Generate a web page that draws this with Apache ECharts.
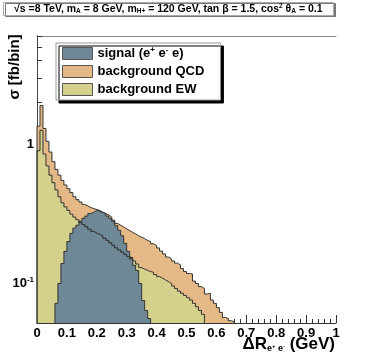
<!DOCTYPE html>
<html>
<head>
<meta charset="utf-8">
<script src="https://cdn.jsdelivr.net/npm/echarts@6/dist/echarts.min.js"></script>
<style>
  html, body { margin: 0; padding: 0; background: #fff; }
  #chart { width: 374px; height: 359px; }
</style>
</head>
<body>
<div id="chart"></div>
<script>
// histogram contents, one value per 0.01 bin
var BIN_WIDTH = 0.01;
var qcd = [1.35, 1.9, 1.3, 1.05, 0.88, 0.75, 0.66, 0.6, 0.55, 0.51,
           0.48, 0.45, 0.42, 0.4, 0.385, 0.37, 0.36, 0.352, 0.345, 0.34,
           0.335, 0.325, 0.318, 0.31, 0.3, 0.285, 0.27, 0.262, 0.255, 0.247,
           0.24, 0.233, 0.227, 0.22, 0.215, 0.21, 0.204, 0.2, 0.193, 0.187,
           0.18, 0.171, 0.163, 0.155, 0.15, 0.145, 0.14, 0.136, 0.128, 0.122,
           0.118, 0.117, 0.104, 0.1, 0.095, 0.092, 0.084, 0.085, 0.076, 0.072,
           0.067, 0.062, 0.057, 0.056, 0.054, 0.053];
var ew = [0.9, 1.26, 0.85, 0.7, 0.6, 0.53, 0.47, 0.42, 0.38, 0.355,
          0.335, 0.315, 0.3, 0.287, 0.275, 0.265, 0.255, 0.245, 0.237, 0.23,
          0.225, 0.22, 0.212, 0.204, 0.196, 0.188, 0.18, 0.174, 0.168, 0.162,
          0.156, 0.15, 0.145, 0.138, 0.13, 0.127, 0.124, 0.122, 0.12, 0.116,
          0.112, 0.109, 0.106, 0.103, 0.1, 0.096, 0.092, 0.088, 0.085, 0.082,
          0.079, 0.076, 0.072, 0.068, 0.064, 0.06];
var signalFirstBin = 6;
var signal = [0.072, 0.1, 0.139, 0.17, 0.2, 0.229, 0.25, 0.262, 0.28, 0.294,
              0.305, 0.318, 0.325, 0.335, 0.33, 0.325, 0.318, 0.305, 0.294, 0.28,
              0.26, 0.241, 0.22, 0.194, 0.17, 0.154, 0.135, 0.124, 0.1, 0.0755,
              0.064, 0.056];

var xLabels = [0, 0.1, 0.2, 0.3, 0.4, 0.5, 0.6, 0.7, 0.8, 0.9, 1];
var yLabels = [0.1, 1];
var yTicks = [0.06, 0.07, 0.08, 0.09, 0.1, 0.2, 0.3, 0.4, 0.5, 0.6, 0.7, 0.8, 0.9, 1, 2, 3, 4, 5, 6];

var names = ['signal (e{sup|+} e{sup|-} e)', 'background QCD', 'background EW'];
var FONT = 'Liberation Sans';
var FLOOR = 0.01; // below the y range, used to close the histogram outline

function stepPoints(values, firstBin) {
    var pts = [[firstBin * BIN_WIDTH, FLOOR]];
    for (var i = 0; i < values.length; i++) {
        pts.push([(firstBin + i) * BIN_WIDTH, values[i]]);
    }
    pts.push([(firstBin + values.length) * BIN_WIDTH, FLOOR]);
    return pts;
}

// part of the EW outline hidden behind the signal, drawn dotted on top
function hiddenEw() {
    var pts = [], last = -1;
    for (var i = 0; i < signal.length; i++) {
        var bin = signalFirstBin + i;
        if (signal[i] > ew[bin]) {
            pts.push([bin * BIN_WIDTH, ew[bin]]);
            last = bin;
        }
    }
    if (last >= 0) pts.push([(last + 1) * BIN_WIDTH, ew[last]]);
    return pts;
}

function histSeries(name, values, firstBin, fill) {
    return {
        name: name,
        type: 'line',
        step: 'end',
        symbol: 'none',
        clip: true,
        silent: true,
        data: stepPoints(values, firstBin),
        itemStyle: { color: fill },
        lineStyle: { color: '#333', width: 1 },
        areaStyle: { color: fill, opacity: 1, origin: 'start' }
    };
}

var chart = echarts.init(document.getElementById('chart'));
var option = {
    animation: false,
    backgroundColor: '#fff',
    title: {
        text: '√s =8 TeV, m{sub|A} = 8 GeV, m{sub|H+} = 120 GeV, tan β = 1.5, cos{sup|2} θ{sub|A} = 0.1',
        left: 3,
        top: 2,
        padding: [0, 11, 0, 11],
        backgroundColor: '#fff',
        borderColor: '#aaa',
        borderWidth: 1,
        shadowColor: '#777',
        shadowOffsetX: 2,
        shadowOffsetY: 1,
        textStyle: {
            fontFamily: FONT, fontSize: 10.5, fontWeight: 'bold', color: '#000', lineHeight: 14,
            rich: {
                sub: { fontFamily: FONT, fontSize: 6.5, fontWeight: 'bold', padding: [5, 0, 0, 0] },
                sup: { fontFamily: FONT, fontSize: 6.5, fontWeight: 'bold', padding: [0, 0, 5, 0] }
            }
        }
    },
    legend: {
        orient: 'vertical',
        left: 56,
        top: 43,
        padding: [3, 16, 4, 6],
        itemGap: 5,
        itemWidth: 30,
        itemHeight: 12,
        icon: 'rect',
        selectedMode: false,
        data: names,
        backgroundColor: '#fff',
        borderColor: '#999',
        borderWidth: 1,
        shadowColor: '#000',
        shadowOffsetX: 3,
        shadowOffsetY: 3,
        itemStyle: { borderColor: '#555', borderWidth: 1 },
        formatter: function (name) { return name; },
        textStyle: {
            fontFamily: FONT, fontSize: 13, fontWeight: 'bold', color: '#000',
            rich: {
                sup: { fontFamily: FONT, fontSize: 8, fontWeight: 'bold', padding: [0, 0, 7, 0] }
            }
        }
    },
    grid: { left: 37, right: 38, top: 36, bottom: 36 },
    xAxis: [{
        type: 'value',
        min: 0,
        max: 1,
        interval: 0.1,
        position: 'bottom',
        axisLine: { show: true, lineStyle: { color: '#333' } },
        axisTick: { show: true, inside: true, length: 8, lineStyle: { color: '#333' } },
        minorTick: { show: true, splitNumber: 5, length: 4, lineStyle: { color: '#333' } },
        splitLine: { show: false },
        axisLabel: {
            margin: 4,
            fontFamily: FONT, fontSize: 13, fontWeight: 'bold', color: '#000',
            formatter: function (v) {
                for (var i = 0; i < xLabels.length; i++) {
                    if (Math.abs(v - xLabels[i]) < 1e-6) return String(xLabels[i]);
                }
                return '';
            }
        }
    }, {
        type: 'value',
        min: 0,
        max: 1,
        position: 'top',
        axisLine: { show: true, lineStyle: { color: '#888' } },
        axisTick: { show: false },
        axisLabel: { show: false },
        splitLine: { show: false }
    }],
    yAxis: [{
        type: 'log',
        min: 0.052,
        max: 6,
        position: 'left',
        axisLine: { show: true, lineStyle: { color: '#333' } },
        axisTick: { show: true, inside: true, length: 5, customValues: yTicks, lineStyle: { color: '#333' } },
        splitLine: { show: false },
        axisLabel: {
            customValues: yLabels,
            margin: 3,
            fontFamily: FONT, fontSize: 13, fontWeight: 'bold', color: '#000',
            formatter: function (v) { return v > 0.5 ? '1' : '10{sup|-1}'; },
            rich: {
                sup: { fontFamily: FONT, fontSize: 8, fontWeight: 'bold', padding: [0, 0, 7, 0] }
            }
        }
    }, {
        type: 'value',
        min: 0,
        max: 1,
        position: 'right',
        axisLine: { show: true, lineStyle: { color: '#444' } },
        axisTick: { show: false },
        axisLabel: { show: false },
        splitLine: { show: false }
    }],
    graphic: [{
        type: 'text',
        x: 15,
        y: 67,
        rotation: Math.PI / 2,
        style: {
            text: 'σ [fb/bin]',
            fontFamily: FONT, fontSize: 15, fontWeight: 'bold', fill: '#000',
            align: 'center', verticalAlign: 'middle'
        }
    }, {
        type: 'text',
        right: 39,
        top: 336,
        style: {
            text: '{b|ΔR}{s|e}{ss|+}{s| e}{ss|-}{b| (GeV)}',
            fill: '#000',
            rich: {
                b: { fontFamily: FONT, fontSize: 17, fontWeight: 'bold' },
                s: { fontFamily: FONT, fontSize: 9, fontWeight: 'bold', padding: [9, 0, 0, 0] },
                ss: { fontFamily: FONT, fontSize: 6, fontWeight: 'bold', padding: [4, 0, 0, 0] }
            }
        }
    }],
    series: [
        histSeries(names[1], qcd, 0, '#e4b986'),
        histSeries(names[2], ew, 0, '#d4d18c'),
        histSeries(names[0], signal, signalFirstBin, '#6f8897'),
        {
            type: 'line',
            step: 'end',
            symbol: 'none',
            silent: true,
            data: hiddenEw(),
            lineStyle: { color: '#333', width: 1, type: [1, 2] }
        }
    ]
};
chart.setOption(option);
</script>
</body>
</html>
